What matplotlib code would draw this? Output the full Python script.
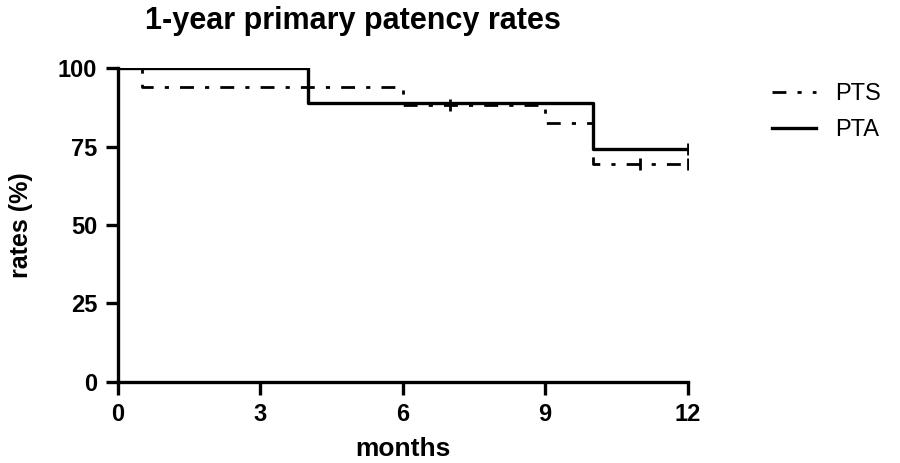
import numpy as np
import matplotlib.pyplot as plt

plt.rcParams['font.family'] = ['Liberation Sans', 'DejaVu Sans']

# survival steps (months, rate %)
pta_t = [0, 4, 10, 12]
pta_s = [100, 88.9, 74.1, 74.1]
pts_t = [0, 0.5, 6, 9, 10, 12]
pts_s = [100, 94.1, 88.2, 82.4, 69.4, 69.4]

# censored observations
pta_cens_t = [12]
pta_cens_s = [74.1]
pts_cens_t = [7, 11, 12]
pts_cens_s = [88.2, 69.4, 69.4]

fig = plt.figure(figsize=(9, 4.63), dpi=100)
ax = fig.add_axes([0.131, 0.175, 0.633, 0.678])

ax.step(pts_t, pts_s, where='post', color='black', lw=2, ls=(0, (5, 4, 1.5, 4)), label='PTS')
ax.step(pta_t, pta_s, where='post', color='black', lw=2.4, label='PTA')
ax.plot(pts_cens_t, pts_cens_s, ls='none', marker='|', ms=9, mew=2, color='black')
ax.plot(pta_cens_t, pta_cens_s, ls='none', marker='|', ms=9, mew=2, color='black')

ax.set_xlim(0, 12)
ax.set_ylim(0, 100)
ax.set_xticks([0, 3, 6, 9, 12])
ax.set_yticks([0, 25, 50, 75, 100])
ax.spines['top'].set_visible(False)
ax.spines['right'].set_visible(False)
ax.spines['left'].set_linewidth(2.4)
ax.spines['bottom'].set_linewidth(2.4)
ax.tick_params(width=2.4, length=9, labelsize=17, pad=6)
for lab in ax.get_xticklabels() + ax.get_yticklabels():
    lab.set_fontweight('bold')

ax.set_xlabel('months', fontsize=19, fontweight='bold', labelpad=8)
ax.set_ylabel('rates (%)', fontsize=18, fontweight='bold', labelpad=18)
fig.text(0.392, 0.955, '1-year primary patency rates', fontsize=22,
         fontweight='bold', ha='center', va='center')

ax.legend(loc='upper left', bbox_to_anchor=(1.11, 1.02), frameon=False,
          fontsize=17, handlelength=1.9, handletextpad=0.8, labelspacing=0.6)

fig.savefig('out.png', dpi=100)
